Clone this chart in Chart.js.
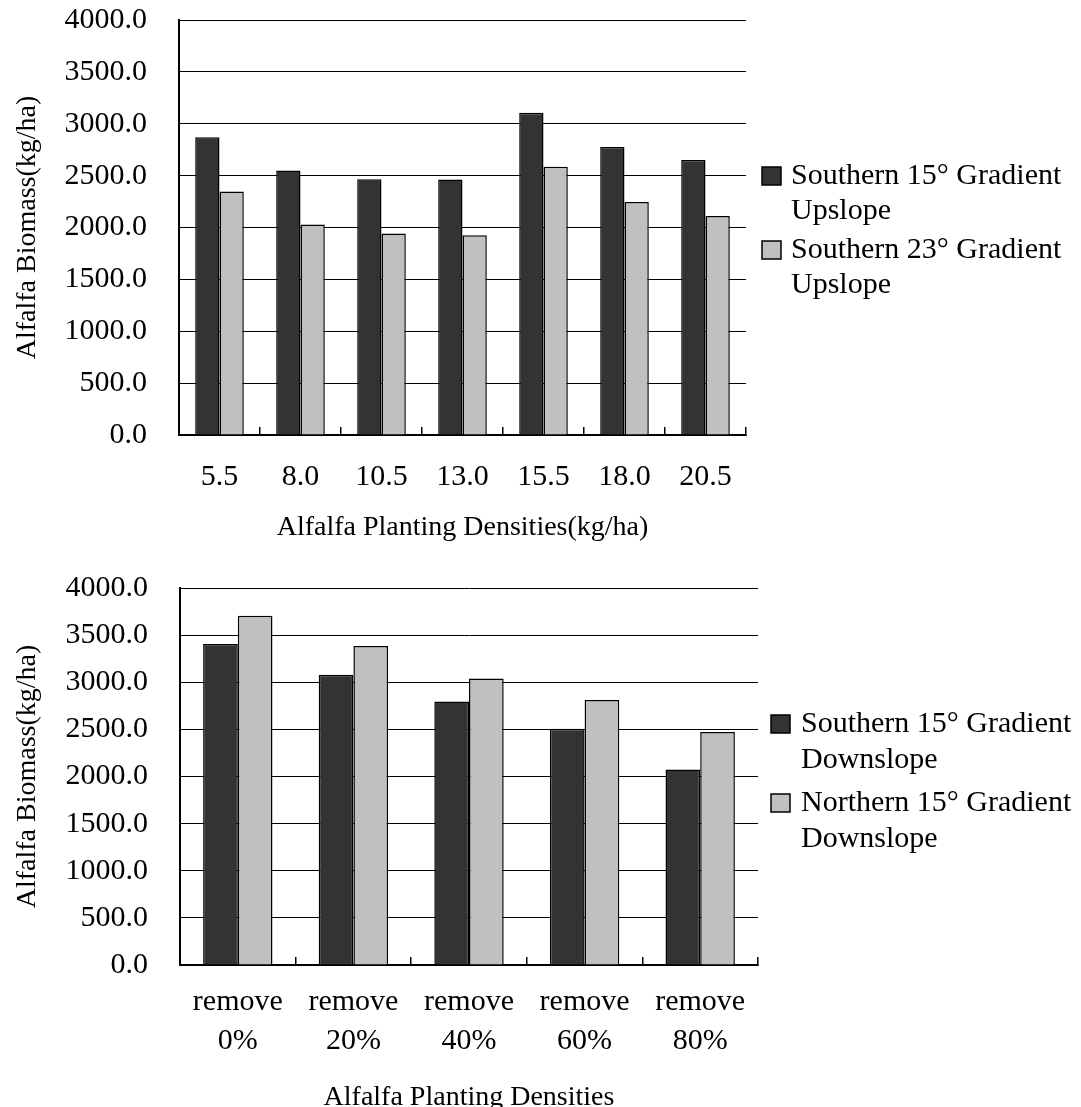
<!DOCTYPE html>
<html>
<head>
<meta charset="utf-8">
<script src="https://cdn.jsdelivr.net/npm/chart.js@4.4.1/dist/chart.umd.min.js"></script>
<style>
    html, body { margin: 0; padding: 0; background: #fff; overflow: hidden; }
    #wrap { position: relative; width: 1081px; height: 1107px; overflow: hidden; }
    canvas { position: absolute; left: 0; }
    #grafico1 { top: 0; }
    #grafico2 { top: 560px; }
</style>
</head>
<body>
<div id="wrap">
    <canvas id="grafico1" width="1081" height="560"></canvas>
    <canvas id="grafico2" width="1081" height="560"></canvas>
</div>
<script>
// Datos del grafico superior
const densidades = ['5.5', '8.0', '10.5', '13.0', '15.5', '18.0', '20.5'];
const sur15Upslope = [2870, 2550, 2465, 2462, 3105, 2775, 2650];
const sur23Upslope = [2348, 2030, 1942, 1925, 2585, 2245, 2110];
const leyendaArriba = [['Southern 15° Gradient', 'Upslope'], ['Southern 23° Gradient', 'Upslope']];

// Datos del grafico inferior
const tratamientos = [['remove', '0%'], ['remove', '20%'], ['remove', '40%'], ['remove', '60%'], ['remove', '80%']];
const sur15Downslope = [3405, 3080, 2797, 2507, 2075];
const norte15Downslope = [3706, 3385, 3040, 2812, 2473];
const leyendaAbajo = [['Southern 15° Gradient', 'Downslope'], ['Northern 15° Gradient', 'Downslope']];

const yTicks = { min: 0, max: 4000, step: 500 };

const OSCURO = '#333333';
const CLARO = '#c0c0c0';
const FUENTE = '"Liberation Serif", "Times New Roman", serif';

Chart.defaults.font.family = FUENTE;
Chart.defaults.font.size = 28;
Chart.defaults.color = '#000';

// Leyenda dibujada a mano (texto en varias lineas)
const leyendaPlugin = {
    id: 'leyendaMano',
    afterDraw(chart, args, opts) {
        const ctx = chart.ctx;
        ctx.save();
        ctx.font = '30px ' + FUENTE;
        ctx.textBaseline = 'middle';
        ctx.textAlign = 'left';
        chart.data.datasets.forEach((ds, i) => {
            const y0 = opts.y + i * opts.itemGap;
            ctx.fillStyle = ds.backgroundColor;
            ctx.fillRect(opts.x, y0 - 9, 19, 18);
            ctx.strokeStyle = '#000';
            ctx.lineWidth = 1.5;
            ctx.strokeRect(opts.x, y0 - 9, 19, 18);
            ctx.fillStyle = '#000';
            ds.label.forEach((linea, j) => {
                ctx.fillText(linea, opts.textX, y0 + j * opts.lineGap);
            });
        });
        ctx.restore();
    }
};

function crearGrafico(id, etiquetas, serieA, serieB, leyenda, cfg) {
    const ctx = document.getElementById(id).getContext('2d');
    return new Chart(ctx, {
        type: 'bar',
        data: {
            labels: etiquetas,
            datasets: [{
                label: leyenda[0],
                data: serieA,
                backgroundColor: OSCURO,
                borderColor: '#000',
                borderWidth: 1.5,
                categoryPercentage: 0.6,
                barPercentage: 1.0
            }, {
                label: leyenda[1],
                data: serieB,
                backgroundColor: CLARO,
                borderColor: '#000',
                borderWidth: 1.5,
                categoryPercentage: 0.6,
                barPercentage: 1.0
            }]
        },
        options: {
            responsive: false,
            animation: false,
            devicePixelRatio: 1,
            layout: { padding: { left: 0, top: cfg.top, right: cfg.right, bottom: 0 } },
            plugins: {
                legend: { display: false },
                tooltip: { enabled: false },
                leyendaMano: cfg.leyenda
            },
            scales: {
                x: {
                    grid: {
                        drawOnChartArea: false,
                        drawTicks: true,
                        tickLength: -8,
                        color: '#000',
                        lineWidth: 1.5
                    },
                    border: { color: '#000', width: 2 },
                    ticks: {
                        padding: cfg.xPad,
                        maxRotation: 0,
                        autoSkip: false,
                        font: { size: 30, lineHeight: 1.3 }
                    },
                    title: {
                        display: true,
                        text: cfg.xTitulo,
                        padding: { top: 0, bottom: cfg.xTituloPad }
                    },
                    afterFit(scale) { scale.height = cfg.xAlto; }
                },
                y: {
                    min: yTicks.min,
                    max: yTicks.max,
                    grid: { color: '#000', lineWidth: 1, drawTicks: false },
                    border: { color: '#000', width: 2 },
                    ticks: {
                        stepSize: yTicks.step,
                        padding: 32,
                        font: { size: 30 },
                        callback: v => v.toFixed(1)
                    },
                    title: {
                        display: true,
                        text: 'Alfalfa Biomass(kg/ha)',
                        padding: { top: 11, bottom: 0 }
                    },
                    afterFit(scale) {
                        scale.width = cfg.yAncho;
                        scale.paddingTop = 0;
                        scale.paddingBottom = 0;
                    }
                }
            }
        },
        plugins: [leyendaPlugin]
    });
}

window.graficoArriba = crearGrafico('grafico1', densidades, sur15Upslope, sur23Upslope, leyendaArriba, {
    top: 20, right: 335, xAlto: 125, yAncho: 179, xPad: 31, xTituloPad: 16,
    xTitulo: 'Alfalfa Planting Densities(kg/ha)',
    leyenda: { x: 762, textX: 791, y: 176, lineGap: 35, itemGap: 74 }
});

window.graficoAbajo = crearGrafico('grafico2', tratamientos, sur15Downslope, norte15Downslope, leyendaAbajo, {
    top: 28, right: 323, xAlto: 155, yAncho: 180, xPad: 26, xTituloPad: 6,
    xTitulo: 'Alfalfa Planting Densities',
    leyenda: { x: 771, textX: 801, y: 164, lineGap: 36, itemGap: 79 }
});
</script>
</body>
</html>
